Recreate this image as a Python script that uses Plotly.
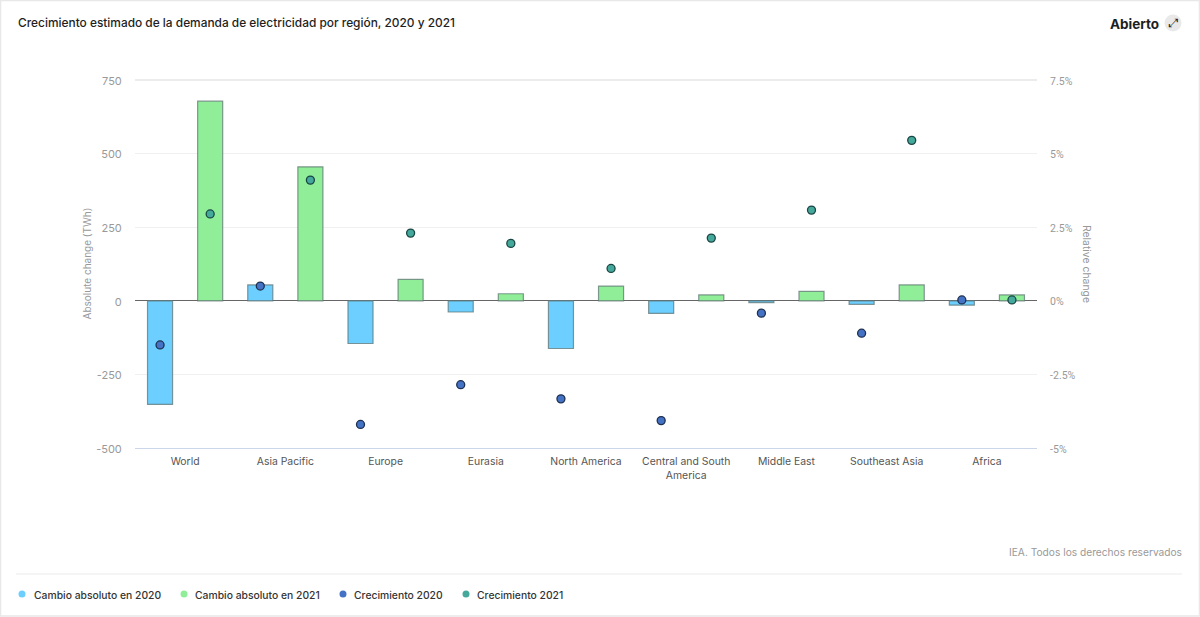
import plotly.graph_objects as go

regions = ["World", "Asia Pacific", "Europe", "Eurasia", "North America",
           "Central and South<br>America", "Middle East", "Southeast Asia", "Africa"]
abs_2020 = [-352, 54, -145, -38, -162, -43, -6, -12, -15]
abs_2021 = [678, 455, 73, 24, 50, 20, 32, 54, 20]
growth_2020 = [-1.5, 0.5, -4.2, -2.85, -3.33, -4.07, -0.42, -1.1, 0.03]
growth_2021 = [2.95, 4.1, 2.3, 1.95, 1.1, 2.13, 3.08, 5.45, 0.03]
left_ticks = [-500, -250, 0, 250, 500, 750]
left_labels = ["-500", "-250", "0", "250", "500", "750"]
right_ticks = [-5, -2.5, 0, 2.5, 5, 7.5]
right_labels = ["-5%", "-2.5%", "0%", "2.5%", "5%", "7.5%"]
legend_names = ["Cambio absoluto en 2020", "Cambio absoluto en 2021", "Crecimiento 2020", "Crecimiento 2021"]

C_BLUE, C_GREEN, C_DBLUE, C_TEAL = "#6DCFFF", "#90EE98", "#4472C4", "#44A99A"
FONT = "Inter, Roboto, sans-serif"
L, R, T, B = 135, 1037, 80, 448
W, H = 1200, 617
px = lambda x: (x - L) / (R - L)
py = lambda y: (B - y) / (B - T)

idx = list(range(len(regions)))
fig = go.Figure()
bar_line = dict(color="rgba(90,110,110,0.7)", width=1.2)
fig.add_bar(x=[i - 0.25 for i in idx], y=abs_2020, width=0.25, marker=dict(color=C_BLUE, line=bar_line),
            showlegend=False, name=legend_names[0])
fig.add_bar(x=[i + 0.25 for i in idx], y=abs_2021, width=0.25, marker=dict(color=C_GREEN, line=bar_line),
            showlegend=False, name=legend_names[1])
fig.add_scatter(x=[i - 0.25 for i in idx], y=growth_2020, yaxis="y2", mode="markers", showlegend=False,
                name=legend_names[2], marker=dict(color=C_DBLUE, size=8, line=dict(color="#1E3050", width=1.3)))
fig.add_scatter(x=[i + 0.25 for i in idx], y=growth_2021, yaxis="y2", mode="markers", showlegend=False,
                name=legend_names[3], marker=dict(color=C_TEAL, size=8, line=dict(color="#1A4545", width=1.3)))

shapes = [
    dict(type="rect", xref="paper", yref="paper", x0=px(0.5), x1=px(1199.5), y0=py(616), y1=py(0.5),
         line=dict(color="#E8E8E8", width=1.5), fillcolor="rgba(0,0,0,0)"),
    dict(type="line", xref="paper", yref="paper", x0=px(16), x1=px(1182), y0=py(574), y1=py(574),
         line=dict(color="#EBEBEB", width=1)),
    dict(type="line", xref="paper", yref="paper", x0=0, x1=1, y0=1, y1=1, line=dict(color="#E6E6E6", width=1.5)),
    dict(type="circle", xref="paper", yref="paper", x0=px(1164.5), x1=px(1181.5), y0=py(31.5), y1=py(14.5),
         fillcolor="#E9E9E9", line=dict(width=0)),
]
ann = [
    dict(text="Crecimiento estimado de la demanda de electricidad por región, 2020 y 2021", x=px(16), y=py(23),
         xanchor="left", font=dict(size=11.9, color="#1E1E1E", family=FONT, weight=500)),
    dict(text="<b>Abierto</b>", x=px(1161), y=py(23.5), xanchor="right", font=dict(size=13.5, color="#1E1E1E", family=FONT)),
    dict(text="⤢", x=px(1173), y=py(23), xanchor="center", font=dict(size=12, color="#222", family="DejaVu Sans")),
    dict(text="IEA. Todos los derechos reservados", x=px(1184), y=py(552), xanchor="right",
         font=dict(size=10.2, color="#999999", family=FONT)),
    dict(text="Absolute change (TWh)", x=px(86), y=py(263.5), xanchor="center", textangle=-90,
         font=dict(size=10, color="#999999", family=FONT)),
    dict(text="Relative change", x=px(1087), y=py(264), xanchor="center", textangle=90,
         font=dict(size=10.4, color="#999999", family=FONT)),
]
# legend row: dot and label pairs
legend_dot_x = [22, 184, 343, 466]
legend_text_x = [32, 193, 352, 475]
for name, col, dx, tx in zip(legend_names, [C_BLUE, C_GREEN, C_DBLUE, C_TEAL], legend_dot_x, legend_text_x):
    shapes.append(dict(type="circle", xref="paper", yref="paper", x0=px(dx - 3.5), x1=px(dx + 3.5),
                       y0=py(597.5), y1=py(590.5), fillcolor=col, line=dict(width=0)))
    ann.append(dict(text=name, x=px(tx), y=py(594.5), xanchor="left",
                    font=dict(size=10.35, color="#333333", family=FONT, weight=500)))
for a in ann:
    a.update(xref="paper", yref="paper", showarrow=False, yanchor="middle")

fig.update_layout(
    width=W, height=H, margin=dict(l=L, r=W - R, t=T, b=H - B),
    paper_bgcolor="white", plot_bgcolor="white", barmode="overlay", showlegend=False,
    font=dict(family=FONT, size=11, color="#999999"),
    xaxis=dict(range=[-0.5, 8.5], tickvals=idx, ticktext=regions, showgrid=False, zeroline=False,
               showline=True, linecolor="#CCD6EB", linewidth=1, tickfont=dict(size=10.4, color="#555555"),
               ticks="outside", ticklen=4, tickcolor="rgba(0,0,0,0)"),
    yaxis=dict(range=[-500, 750], tickvals=left_ticks, ticktext=left_labels, gridcolor="#F0F0F0", gridwidth=1,
               zeroline=True, zerolinecolor="#666666", zerolinewidth=1, showline=False,
               ticks="outside", ticklen=10, tickcolor="rgba(0,0,0,0)", ticklabelshift=1,
               tickfont=dict(size=11, color="#999999")),
    yaxis2=dict(range=[-5, 7.5], overlaying="y", side="right", tickvals=right_ticks, ticktext=right_labels,
                showgrid=False, zeroline=False, showline=False,
                ticks="outside", ticklen=10, tickcolor="rgba(0,0,0,0)", ticklabelshift=1,
                tickfont=dict(size=10.5, color="#999999", family="Roboto")),
    shapes=shapes, annotations=ann,
)
fig.write_html("out.html", config={"displayModeBar": False, "responsive": False},
               post_script="document.body.style.margin='0';")
